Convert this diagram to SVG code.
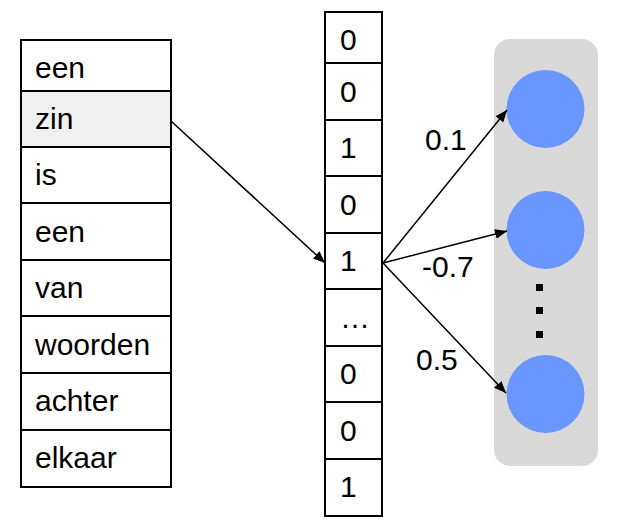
<svg xmlns="http://www.w3.org/2000/svg" width="642" height="526" viewBox="0 0 642 526">
<style>
text{font-family:"Liberation Sans",Arial,sans-serif;font-size:30px;fill:#000}
.cell{fill:#fff;stroke:#000;stroke-width:2}
.edge{stroke:#000;stroke-width:1.5;fill:none;marker-end:url(#ah)}
.neuron{fill:#6a96ff}
</style>
<defs>
<marker id="ah" viewBox="0 0 12 10" refX="12" refY="5" markerWidth="12" markerHeight="10" markerUnits="userSpaceOnUse" orient="auto">
<path d="M0,0 L12,5 L0,10 Z" fill="#000"/>
</marker>
</defs>
<rect width="642" height="526" fill="#fff"/>
<g id="words">
<rect class="cell" x="21" y="40" width="150" height="51"/>
<rect class="cell" x="21" y="91" width="150" height="56" style="fill:#f0f0f0"/>
<rect class="cell" x="21" y="147" width="150" height="56"/>
<rect class="cell" x="21" y="203" width="150" height="57"/>
<rect class="cell" x="21" y="260" width="150" height="56"/>
<rect class="cell" x="21" y="316" width="150" height="57"/>
<rect class="cell" x="21" y="373" width="150" height="57"/>
<rect class="cell" x="21" y="430" width="150" height="57"/>
<text x="35" y="78">een</text>
<text x="35" y="129">zin</text>
<text x="35" y="185">is</text>
<text x="35" y="242">een</text>
<text x="35" y="298">van</text>
<text x="35" y="355">woorden</text>
<text x="35" y="411">achter</text>
<text x="35" y="468">elkaar</text>
</g>
<g id="vector">
<rect class="cell" x="325" y="12" width="57" height="51"/>
<rect class="cell" x="325" y="63" width="57" height="57"/>
<rect class="cell" x="325" y="120" width="57" height="56"/>
<rect class="cell" x="325" y="176" width="57" height="57"/>
<rect class="cell" x="325" y="233" width="57" height="56"/>
<rect class="cell" x="325" y="289" width="57" height="57"/>
<rect class="cell" x="325" y="346" width="57" height="56"/>
<rect class="cell" x="325" y="402" width="57" height="57"/>
<rect class="cell" x="325" y="459" width="57" height="57"/>
<text x="340" y="50">0</text>
<text x="340" y="102">0</text>
<text x="340" y="158">1</text>
<text x="340" y="215">0</text>
<text x="340" y="271">1</text>
<text x="340" y="328">…</text>
<text x="340" y="384">0</text>
<text x="340" y="441">0</text>
<text x="340" y="497">1</text>
</g>
<g id="layer">
<rect x="494" y="39" width="104" height="427" rx="16" fill="#d9d9d9"/>
<circle class="neuron" cx="545.5" cy="109" r="39"/>
<circle class="neuron" cx="545.5" cy="230" r="39"/>
<circle class="neuron" cx="545.5" cy="394" r="39"/>
<rect x="536" y="284" width="7" height="7" fill="#000"/>
<rect x="536" y="307" width="7" height="7" fill="#000"/>
<rect x="536" y="331" width="7" height="7" fill="#000"/>
</g>
<g id="connectors">
<line class="edge" x1="171" y1="121" x2="325" y2="263"/>
<line class="edge" x1="383" y1="263" x2="507" y2="110"/>
<line class="edge" x1="383" y1="263" x2="507" y2="231"/>
<line class="edge" x1="383" y1="263" x2="506" y2="393"/>
<text x="425" y="150">0.1</text>
<text x="422" y="277">-0.7</text>
<text x="416" y="370">0.5</text>
</g>
</svg>
